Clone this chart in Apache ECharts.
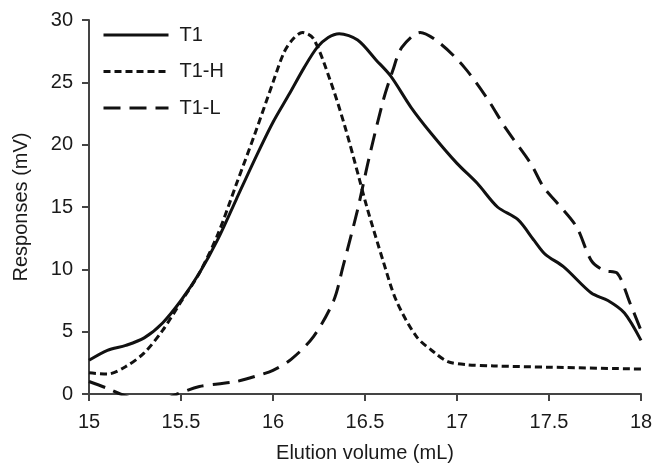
<!DOCTYPE html>
<html>
<head>
<meta charset="utf-8">
<script src="https://cdn.jsdelivr.net/npm/echarts@6/dist/echarts.min.js"></script>
<style>
  html, body { margin: 0; padding: 0; background: #fff; }
  #chart { width: 654px; height: 465px; }
</style>
</head>
<body>
<div id="chart"></div>
<script>
// elution volume (mL) / response (mV)
const t1X = [15.0, 15.1, 15.2, 15.3, 15.4, 15.5, 15.6, 15.7, 15.8, 15.91, 16.0, 16.09, 16.17, 16.24, 16.3, 16.36, 16.46, 16.56, 16.64, 16.75, 16.86, 17.0, 17.11, 17.22, 17.33, 17.42, 17.48, 17.58, 17.73, 17.82, 17.91, 18.0]
const t1Y = [2.7, 3.5, 3.9, 4.5, 5.7, 7.5, 9.7, 12.4, 15.6, 19.1, 21.8, 24.1, 26.2, 27.8, 28.6, 28.9, 28.4, 26.8, 25.5, 23.0, 20.9, 18.5, 16.9, 15.0, 14.0, 12.3, 11.2, 10.2, 8.1, 7.5, 6.5, 4.3]

const t1hX = [15.0, 15.1, 15.2, 15.3, 15.4, 15.5, 15.6, 15.7, 15.8, 15.9, 16.0, 16.06, 16.11, 16.16, 16.22, 16.31, 16.39, 16.47, 16.51, 16.6, 16.67, 16.78, 16.88, 16.95, 17.05, 17.2, 17.5, 18.0]
const t1hY = [1.7, 1.6, 2.2, 3.3, 5.1, 7.4, 9.7, 12.8, 16.8, 20.8, 25.0, 27.4, 28.5, 29.0, 28.5, 25.2, 21.5, 17.2, 15.0, 10.6, 7.5, 4.6, 3.3, 2.6, 2.35, 2.25, 2.15, 2.0]

const t1lX = [15.0, 15.1, 15.17, 15.3, 15.4, 15.48, 15.6, 15.7, 15.8, 15.9, 16.0, 16.1, 16.22, 16.33, 16.38, 16.46, 16.52, 16.6, 16.65, 16.7, 16.8, 16.91, 17.04, 17.16, 17.27, 17.4, 17.47, 17.54, 17.65, 17.73, 17.8, 17.87, 17.94, 18.0]
const t1lY = [1.0, 0.45, 0, -0.6, -0.5, 0, 0.6, 0.8, 1.0, 1.4, 1.9, 2.8, 4.6, 7.5, 10.2, 14.8, 18.8, 23.6, 25.9, 27.8, 29.0, 28.1, 26.2, 23.8, 21.2, 18.5, 16.6, 15.4, 13.4, 10.7, 9.9, 9.7, 7.3, 5.1]

const seriesNames = ['T1', 'T1-H', 'T1-L']

function pairs(xs, ys) {
  return xs.map((x, i) => [x, ys[i]])
}

const fontFam = 'Arial, "Liberation Sans", sans-serif'
const ink = '#1a1a1a'

let chart = echarts.init(document.getElementById('chart'))
let option = {
  backgroundColor: '#fff',
  animation: false,
  grid: { left: 89, right: 13, top: 20, bottom: 71, outerBoundsMode: 'none' },
  legend: {
    orient: 'vertical',
    left: 97,
    top: 20,
    itemWidth: 65,
    itemHeight: 14,
    itemGap: 16.5,
    itemStyle: { opacity: 0 },
    lineStyle: { width: 3 },
    textStyle: { fontFamily: fontFam, fontSize: 20, color: ink, padding: [0, 0, 0, 6] },
    data: seriesNames
  },
  xAxis: {
    type: 'value',
    min: 15,
    max: 18,
    interval: 0.5,
    name: 'Elution volume (mL)',
    nameLocation: 'middle',
    nameGap: 49,
    nameTextStyle: { fontFamily: fontFam, fontSize: 20, color: ink },
    axisLine: { lineStyle: { color: '#444', width: 2 } },
    axisTick: { show: true, length: 7, lineStyle: { color: '#444', width: 2 } },
    axisLabel: { fontFamily: fontFam, fontSize: 20, color: ink, margin: 18 },
    splitLine: { show: false }
  },
  yAxis: {
    type: 'value',
    min: 0,
    max: 30,
    interval: 5,
    name: 'Responses (mV)',
    nameLocation: 'middle',
    nameGap: 58,
    nameTextStyle: { fontFamily: fontFam, fontSize: 20, color: ink },
    axisLine: { show: true, lineStyle: { color: '#444', width: 2 } },
    axisTick: { show: true, length: 7, lineStyle: { color: '#444', width: 2 } },
    axisLabel: { fontFamily: fontFam, fontSize: 20, color: ink, margin: 16 },
    splitLine: { show: false }
  },
  series: [{
    name: 'T1',
    type: 'line',
    smooth: 0.3,
    symbol: 'none',
    data: pairs(t1X, t1Y),
    lineStyle: { color: '#111', width: 3 },
    itemStyle: { color: '#111' }
  }, {
    name: 'T1-H',
    type: 'line',
    smooth: 0.3,
    symbol: 'none',
    data: pairs(t1hX, t1hY),
    lineStyle: { color: '#111', width: 3, type: [7, 4] },
    itemStyle: { color: '#111' }
  }, {
    name: 'T1-L',
    type: 'line',
    smooth: 0.3,
    symbol: 'none',
    data: pairs(t1lX, t1lY),
    lineStyle: { color: '#111', width: 3, type: [17, 9] },
    itemStyle: { color: '#111' }
  }]
}
chart.setOption(option)
</script>
</body>
</html>
